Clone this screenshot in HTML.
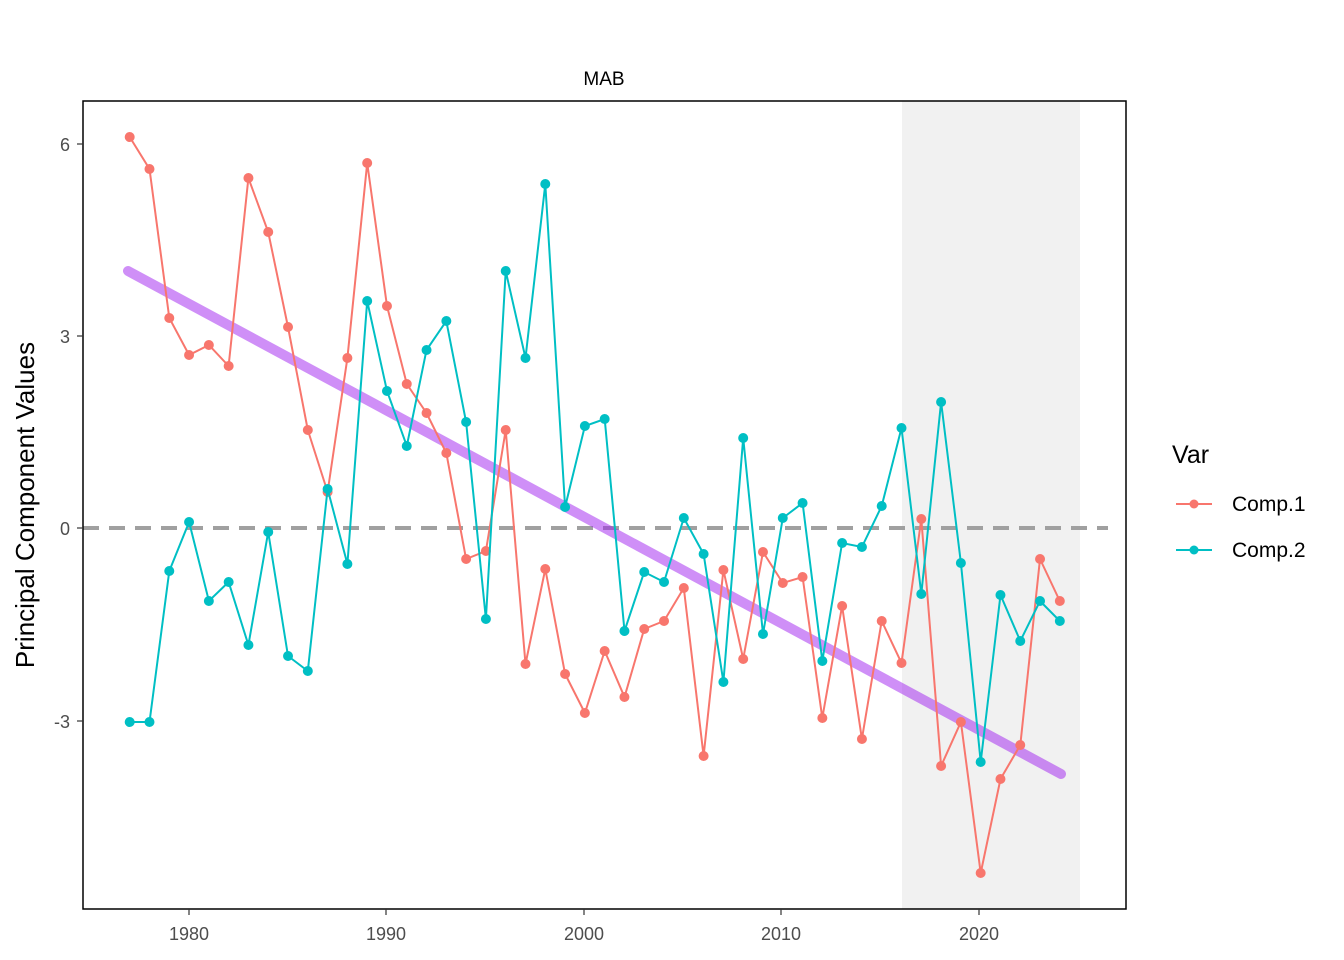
<!DOCTYPE html>
<html><head><style>body{margin:0;background:#fff}svg{display:block;font-family:"Liberation Sans",sans-serif}</style></head>
<body>
<svg width="1344" height="960" viewBox="0 0 1344 960">
<rect x="902" y="101" width="178" height="808" fill="#f1f1f1"/>
<line x1="83" y1="528" x2="1108" y2="528" stroke="#a0a0a0" stroke-width="4" stroke-dasharray="16,10"/>
<line x1="128" y1="271" x2="1061" y2="774" stroke="#a020f0" stroke-opacity="0.5" stroke-width="10" stroke-linecap="round"/>
<g id="c1"></g><g id="c2"></g>
<rect x="83" y="101" width="1043" height="808" fill="none" stroke="#000" stroke-width="1.5"/>
<text x="604" y="85" font-size="19" text-anchor="middle">MAB</text>
<g font-size="18" fill="#4d4d4d" text-anchor="end">
<text x="70" y="151">6</text><text x="70" y="343">3</text><text x="70" y="535">0</text><text x="70" y="728">-3</text></g>
<g stroke="#333" stroke-width="1.2"><line x1="77" y1="144" x2="83" y2="144"/><line x1="77" y1="336" x2="83" y2="336"/><line x1="77" y1="528" x2="83" y2="528"/><line x1="77" y1="721" x2="83" y2="721"/>
<line x1="189" y1="909" x2="189" y2="915"/><line x1="386" y1="909" x2="386" y2="915"/><line x1="584" y1="909" x2="584" y2="915"/><line x1="781" y1="909" x2="781" y2="915"/><line x1="979" y1="909" x2="979" y2="915"/></g>
<g font-size="18" fill="#4d4d4d" text-anchor="middle">
<text x="189" y="940">1980</text><text x="386" y="940">1990</text><text x="584" y="940">2000</text><text x="781" y="940">2010</text><text x="979" y="940">2020</text></g>
<text transform="translate(34,505) rotate(-90)" font-size="26" text-anchor="middle">Principal Component Values</text>
<text x="1172" y="463" font-size="25">Var</text>
<line x1="1176" y1="504" x2="1212" y2="504" stroke="#F8766D" stroke-width="2"/><circle cx="1194" cy="504" r="4.5" fill="#F8766D"/>
<line x1="1176" y1="550" x2="1212" y2="550" stroke="#00BFC4" stroke-width="2"/><circle cx="1194" cy="550" r="4.5" fill="#00BFC4"/>
<text x="1232" y="511" font-size="21">Comp.1</text><text x="1232" y="557" font-size="21">Comp.2</text>
</svg>
<script>
const a=[137,169,318,355,345,366,178,232,327,430,492,358,163,306,384,413,453,559,551,430,664,569,674,713,651,697,629,621,588,756,570,659,552,583,577,718,606,739,621,663,519,766,722,873,779,745,559,601];
const b=[722,722,571,522,601,582,645,532,656,671,489,564,301,391,446,350,321,422,619,271,358,184,507,426,419,631,572,582,518,554,682,438,634,518,503,661,543,547,506,428,594,402,563,762,595,641,601,621];
function draw(id,d,c){let p=d.map((y,i)=>(129.7+19.79*i).toFixed(1)+','+y).join(' ');let s='<polyline points="'+p+'" fill="none" stroke="'+c+'" stroke-width="2"/>';d.forEach((y,i)=>s+='<circle cx="'+(129.7+19.79*i)+'" cy="'+y+'" r="5" fill="'+c+'"/>');document.getElementById(id).innerHTML=s;}
draw('c1',a,'#F8766D');draw('c2',b,'#00BFC4');
</script>
</body></html>
